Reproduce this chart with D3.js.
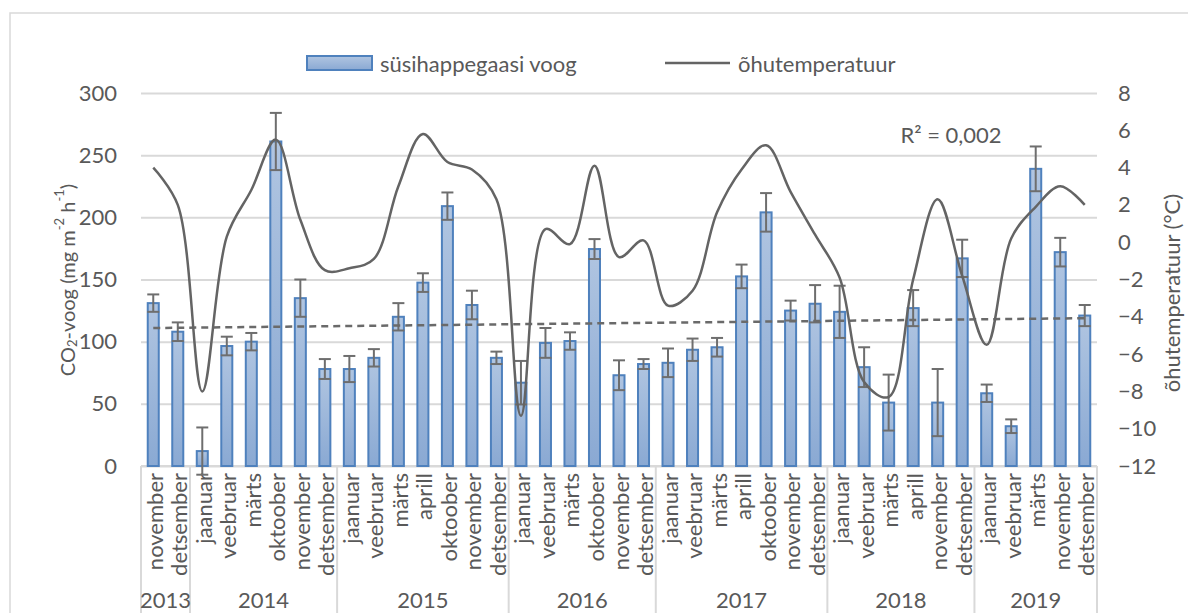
<!DOCTYPE html>
<html>
<head>
<meta charset="utf-8">
<script src="https://cdn.jsdelivr.net/npm/d3@7"></script>
<style>
  body { margin: 0; background: #fff; }
  text { font-family: Lato, "Open Sans", sans-serif; fill: #595959; }
</style>
</head>
<body>
<div id="chart"></div>
<script>
const months = [
    'november', 'detsember',
    'jaanuar', 'veebruar', 'märts', 'oktoober', 'november', 'detsember',
    'jaanuar', 'veebruar', 'märts', 'aprill', 'oktoober', 'november', 'detsember',
    'jaanuar', 'veebruar', 'märts', 'oktoober', 'november', 'detsember',
    'jaanuar', 'veebruar', 'märts', 'aprill', 'oktoober', 'november', 'detsember',
    'jaanuar', 'veebruar', 'märts', 'aprill', 'november', 'detsember',
    'jaanuar', 'veebruar', 'märts', 'november', 'detsember'
];
const years = ['2013', '2014', '2015', '2016', '2017', '2018', '2019'];
const yearCounts = [2, 6, 7, 6, 7, 6, 5];

// CO2 flux (mg m-2 h-1) and its error
const co2 = [131, 108, 12, 96.5, 100, 261, 135, 78, 78, 87, 120, 147.5, 209, 129.5, 87,
    67, 99, 100.5, 174.5, 73, 82, 83, 93.5, 95.5, 152.5, 204, 125, 130.5,
    124, 79.5, 51, 127, 51, 167, 58.5, 32, 239, 172, 121];
const co2Err = [7, 7.5, 19, 7.5, 7, 23, 15, 8, 10.5, 7, 11, 7.5, 11, 11.5, 5,
    17.5, 12, 7, 8, 12, 4, 11.5, 9, 7.5, 9.5, 15.5, 8, 15,
    21, 16, 22.5, 14.5, 27, 15, 7, 5.5, 18, 11.5, 8.5];
// air temperature (°C)
const temp = [4.0, 2.0, -8.0, 0.3, 2.8, 5.5, 1.2, -1.5, -1.4, -0.9, 3.0, 5.8, 4.3, 3.9, 2.3,
    -9.3, 0.7, -0.1, 4.1, -0.8, 0.1, -3.4, -2.6, 1.6, 3.9, 5.2, 2.7, 0.4,
    -1.9, -7.5, -8.3, -2.0, 2.3, -1.8, -5.5, 0.2, 1.9, 3.0, 2.0];

const leftTicks = [0, 50, 100, 150, 200, 250, 300];
const rightTicks = [-12, -10, -8, -6, -4, -2, 0, 2, 4, 6, 8];

const W = 1188, H = 613;
const plot = { left: 141, right: 1097, top: 93, bottom: 466 };
const textColor = '#595959', gridColor = '#d9d9d9';

const svg = d3.select('#chart').append('svg')
    .attr('width', W)
    .attr('height', H);

const defs = svg.append('defs');
const grad = defs.append('linearGradient')
    .attr('id', 'barFill')
    .attr('x1', 0).attr('y1', 0).attr('x2', 0).attr('y2', 1);
grad.append('stop').attr('offset', '0%').attr('stop-color', '#b0c5e1');
grad.append('stop').attr('offset', '100%').attr('stop-color', '#8aa9d3');

// chart border
svg.append('rect')
    .attr('x', 10).attr('y', 13)
    .attr('width', W).attr('height', H)
    .attr('fill', 'none')
    .attr('stroke', gridColor)
    .attr('stroke-width', 1.5);

let x = d3.scaleBand()
    .domain(d3.range(months.length))
    .range([plot.left, plot.right])
    .paddingInner(0.55)
    .paddingOuter(0.275);
const cx = i => x(i) + x.bandwidth() / 2;
const edge = d3.scaleLinear().domain([0, months.length]).range([plot.left, plot.right]);

let y = d3.scaleLinear().domain([0, 300]).range([plot.bottom, plot.top]);
let y2 = d3.scaleLinear().domain([-12, 8]).range([plot.bottom, plot.top]);

// gridlines
let yAxis = d3.axisLeft(y).tickValues(leftTicks).tickSize(-(plot.right - plot.left)).tickPadding(24);
svg.append('g')
    .attr('class', 'axis y')
    .attr('transform', 'translate(' + plot.left + ',0)')
    .call(yAxis)
    .call(g => g.select('.domain').remove())
    .call(g => g.selectAll('line').attr('stroke', gridColor).attr('stroke-width', 2))
    .call(g => g.selectAll('text').attr('font-size', 22).attr('fill', textColor).attr('font-family', 'Lato'));

let y2Axis = d3.axisRight(y2).tickValues(rightTicks).tickSize(0).tickPadding(21);
svg.append('g')
    .attr('class', 'axis y2')
    .attr('transform', 'translate(' + plot.right + ',0)')
    .call(y2Axis)
    .call(g => g.select('.domain').remove())
    .call(g => g.selectAll('text').attr('font-size', 22).attr('fill', textColor).attr('font-family', 'Lato'));

// category axis: baseline, group separators, month and year labels
svg.append('line')
    .attr('x1', plot.left).attr('x2', plot.right)
    .attr('y1', plot.bottom).attr('y2', plot.bottom)
    .attr('stroke', gridColor).attr('stroke-width', 2);

const bounds = [0].concat(Array.from(d3.cumsum(yearCounts)));
svg.selectAll('.sep')
    .data(bounds)
    .join('line')
    .attr('class', 'sep')
    .attr('x1', d => edge(d)).attr('x2', d => edge(d))
    .attr('y1', plot.bottom).attr('y2', H)
    .attr('stroke', gridColor).attr('stroke-width', 2);

svg.selectAll('.month')
    .data(months)
    .join('text')
    .attr('class', 'month')
    .attr('transform', (d, i) => 'translate(' + (cx(i) + 1) + ',' + (plot.bottom + 7) + ') rotate(-90)')
    .attr('text-anchor', 'end')
    .attr('dominant-baseline', 'central')
    .attr('font-size', 22)
    .text(d => d);

svg.selectAll('.year')
    .data(years)
    .join('text')
    .attr('class', 'year')
    .attr('x', (d, i) => (edge(bounds[i]) + edge(bounds[i + 1])) / 2)
    .attr('y', 608)
    .attr('text-anchor', 'middle')
    .attr('font-size', 22)
    .text(d => d);

// bars
svg.selectAll('.bar')
    .data(co2)
    .join('rect')
    .attr('class', 'bar')
    .attr('x', (d, i) => x(i))
    .attr('y', d => y(d))
    .attr('width', x.bandwidth())
    .attr('height', d => y(0) - y(d))
    .attr('fill', 'url(#barFill)')
    .attr('stroke', '#4f81bd')
    .attr('stroke-width', 2);

// error bars
const errG = svg.append('g')
    .attr('stroke', '#6e6e6e')
    .attr('stroke-width', 2)
    .attr('fill', 'none');
co2.forEach((v, i) => {
    const lo = y(v - co2Err[i]), hi = y(v + co2Err[i]);
    errG.append('line').attr('x1', cx(i)).attr('x2', cx(i)).attr('y1', lo).attr('y2', hi);
    errG.append('line').attr('x1', cx(i) - 6).attr('x2', cx(i) + 6).attr('y1', lo).attr('y2', lo);
    errG.append('line').attr('x1', cx(i) - 6).attr('x2', cx(i) + 6).attr('y1', hi).attr('y2', hi);
});

// linear trend of the CO2 series
const idx = d3.range(1, co2.length + 1);
const mx = d3.mean(idx), my = d3.mean(co2);
const slope = d3.sum(idx, (k, i) => (k - mx) * (co2[i] - my)) / d3.sum(idx, k => (k - mx) * (k - mx));
const icpt = my - slope * mx;
svg.append('line')
    .attr('x1', cx(0)).attr('x2', cx(co2.length - 1))
    .attr('y1', y(icpt + slope * 1)).attr('y2', y(icpt + slope * co2.length))
    .attr('stroke', '#6a6a6a')
    .attr('stroke-width', 2.5)
    .attr('stroke-dasharray', '7,5');

// temperature line
svg.append('path')
    .datum(temp)
    .attr('fill', 'none')
    .attr('stroke', '#646464')
    .attr('stroke-width', 2.5)
    .attr('d', d3.line()
        .x((d, i) => cx(i))
        .y(d => y2(d))
        .curve(d3.curveCatmullRom.alpha(0.5)));

svg.append('text')
    .attr('x', 951).attr('y', 143)
    .attr('text-anchor', 'middle')
    .attr('font-size', 22)
    .text('R² = 0,002');

// axis titles
const lt = svg.append('text')
    .attr('transform', 'translate(67,280) rotate(-90)')
    .attr('text-anchor', 'middle')
    .attr('dominant-baseline', 'central')
    .attr('font-size', 20);
lt.append('tspan').text('CO');
lt.append('tspan').attr('font-size', 13).attr('dy', 5).text('2');
lt.append('tspan').attr('dy', -5).text('-voog (mg m');
lt.append('tspan').attr('font-size', 13).attr('dy', -8).text('-2');
lt.append('tspan').attr('dy', 8).text(' h');
lt.append('tspan').attr('font-size', 13).attr('dy', -8).text('-1');
lt.append('tspan').attr('dy', 8).text(')');

svg.append('text')
    .attr('transform', 'translate(1171,293) rotate(-90)')
    .attr('text-anchor', 'middle')
    .attr('dominant-baseline', 'central')
    .attr('font-size', 22)
    .text('õhutemperatuur (°C)');

// legend
svg.append('rect')
    .attr('x', 307).attr('y', 56)
    .attr('width', 65).attr('height', 14)
    .attr('fill', 'url(#barFill)')
    .attr('stroke', '#4f81bd')
    .attr('stroke-width', 2);
svg.append('text')
    .attr('x', 380).attr('y', 63)
    .attr('dominant-baseline', 'central')
    .attr('font-size', 22)
    .text('süsihappegaasi voog');
svg.append('line')
    .attr('x1', 665).attr('x2', 730)
    .attr('y1', 63).attr('y2', 63)
    .attr('stroke', '#646464')
    .attr('stroke-width', 2.5);
svg.append('text')
    .attr('x', 738).attr('y', 63)
    .attr('dominant-baseline', 'central')
    .attr('font-size', 22)
    .text('õhutemperatuur');
</script>
</body>
</html>
